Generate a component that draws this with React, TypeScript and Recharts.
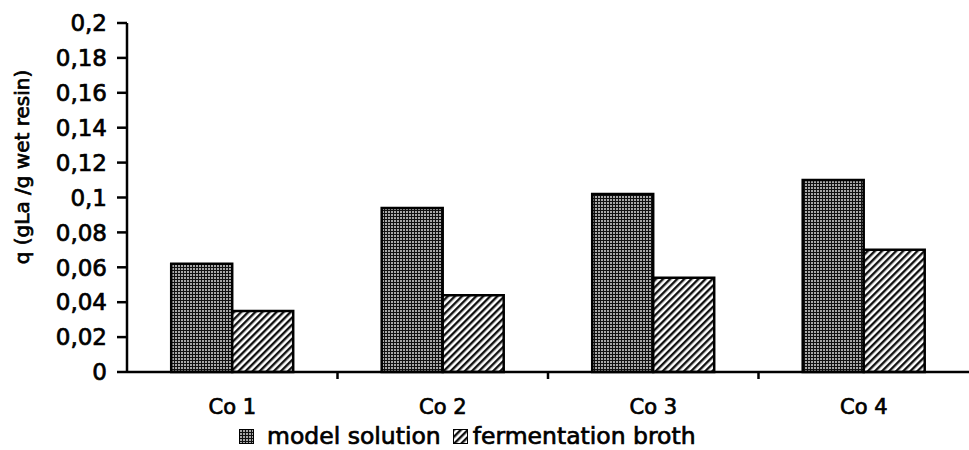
import React from 'react';
import { BarChart, Bar, XAxis, YAxis } from 'recharts';

const categories = ['Co 1', 'Co 2', 'Co 3', 'Co 4'];
const modelSolution = [0.062, 0.094, 0.102, 0.11];
const fermentationBroth = [0.035, 0.044, 0.054, 0.07];
const yTicks = [0, 0.02, 0.04, 0.06, 0.08, 0.1, 0.12, 0.14, 0.16, 0.18, 0.2];
const seriesNames = ['model solution', 'fermentation broth'];

const data = categories.map((c, i) => ({
  name: c,
  model: modelSolution[i],
  ferm: fermentationBroth[i],
}));

const FONT = '"DejaVu Sans", sans-serif';

const fmt = (v: number) => Number(v.toFixed(2)).toString().replace('.', ',');

const XTick = (props: any) => {
  const { x, y, payload, index } = props;
  const off = payload && payload.offset ? payload.offset : 105;
  return (
    <g>
      <text x={x} y={y} dy={34} textAnchor="middle" fontFamily={FONT} fontSize={21} fill="#000" stroke="#000" strokeWidth={0.7}>
        {payload.value}
      </text>
      {index < categories.length - 1 && (
        <line x1={x + off} x2={x + off} y1={y - 8} y2={y - 1} stroke="#000" strokeWidth={2.5} />
      )}
    </g>
  );
};

const YTick = (props: any) => {
  const { x, y, payload } = props;
  return (
    <text x={x} y={y} dy="0.36em" textAnchor="end" fontFamily={FONT} fontSize={23} fill="#000" stroke="#000" strokeWidth={0.7}>
      {fmt(payload.value)}
    </text>
  );
};

const YLabel = () => (
  <text
    x={22}
    y={167}
    transform="rotate(-90 22 167)"
    textAnchor="middle"
    dominantBaseline="central"
    fontFamily={FONT}
    fontSize={20}
    fill="#000"
    stroke="#000"
    strokeWidth={0.7}
  >
    q (gLa /g wet resin)
  </text>
);

const Patterns = ({ prefix }: { prefix: string }) => (
  <defs>
    <pattern id={`${prefix}grid`} width={3} height={3} patternUnits="userSpaceOnUse">
      <rect width={3} height={3} fill="#a8a8a8" />
      <rect width={3} height={1} fill="#111" />
      <rect width={1} height={3} fill="#111" />
    </pattern>
    <pattern id={`${prefix}hatch`} width={5} height={5} patternUnits="userSpaceOnUse" patternTransform="rotate(45)">
      <rect width={5} height={5} fill="#fff" />
      <rect width={2.4} height={5} fill="#111" />
    </pattern>
  </defs>
);

const LegendBox = () => (
  <div
    style={{
      position: 'absolute',
      left: 239,
      top: 423,
      display: 'flex',
      alignItems: 'center',
      fontFamily: FONT,
      fontSize: 23.5,
      color: '#000',
      WebkitTextStroke: '0.7px #000',
      lineHeight: '26px',
      whiteSpace: 'nowrap',
    }}
  >
    <svg width={15} height={15} style={{ marginRight: 13 }}>
      <Patterns prefix="lg" />
      <rect x={0.5} y={0.5} width={14} height={14} fill="url(#lggrid)" stroke="#000" strokeWidth={1} />
    </svg>
    <span style={{ marginRight: 12 }}>{seriesNames[0]}</span>
    <svg width={15} height={15} style={{ marginRight: 5 }}>
      <rect x={0.5} y={0.5} width={14} height={14} fill="url(#lghatch)" stroke="#000" strokeWidth={1} />
    </svg>
    <span>{seriesNames[1]}</span>
  </div>
);

export default function App() {
  return (
    <div style={{ position: 'absolute', left: 0, top: 0, width: 969, height: 450, background: '#fff' }}>
      <BarChart
        width={969}
        height={450}
        data={data}
        margin={{ top: 23, right: 0, bottom: 48, left: 0 }}
        barCategoryGap="21%"
        barGap={0}
      >
        <Patterns prefix="ch" />
        <XAxis
          dataKey="name"
          axisLine={{ stroke: '#000', strokeWidth: 2.5 }}
          tickLine={false}
          tickSize={6}
          tickMargin={2}
          tick={<XTick />}
          interval={0}
          height={30}
        />
        <YAxis
          width={127}
          domain={[0, 0.2]}
          ticks={yTicks}
          interval={0}
          axisLine={{ stroke: '#000', strokeWidth: 2.5 }}
          tickLine={{ stroke: '#000', strokeWidth: 2.5 }}
          tickSize={10}
          tickMargin={10}
          tick={<YTick />}
          label={<YLabel />}
        />
        <Bar dataKey="model" name={seriesNames[0]} fill="url(#chgrid)" stroke="#000" strokeWidth={2.5} isAnimationActive={false} />
        <Bar dataKey="ferm" name={seriesNames[1]} fill="url(#chhatch)" stroke="#000" strokeWidth={2.5} isAnimationActive={false} />
      </BarChart>
      <LegendBox />
    </div>
  );
}
